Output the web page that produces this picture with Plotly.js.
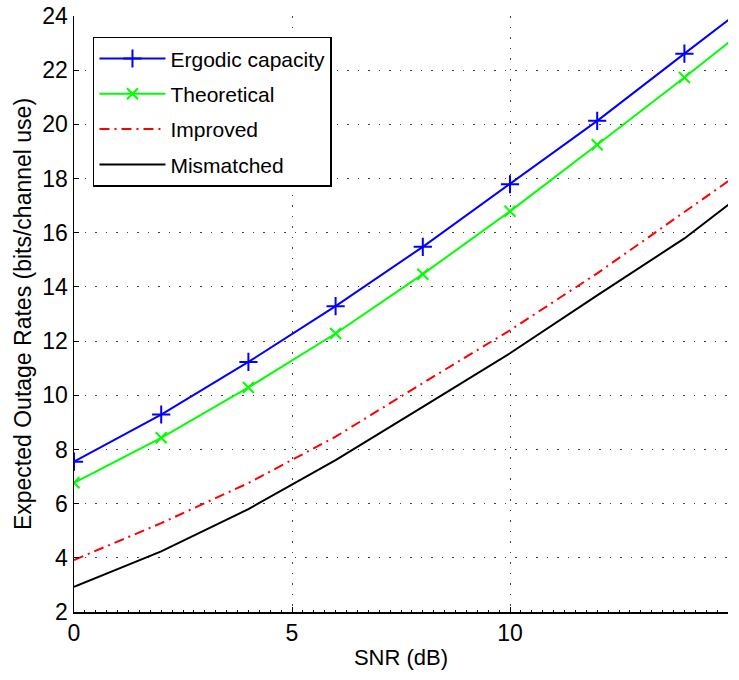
<!DOCTYPE html>
<html>
<head>
<meta charset="utf-8">
<script src="https://cdn.plot.ly/plotly-3.0.1.min.js"></script>
<style>html,body{margin:0;padding:0;background:#fff;}#chart{width:739px;height:680px;}</style>
</head>
<body>
<div id="chart"></div>
<script>
// SNR (dB) sample points (axis is clipped at 15)
const snr = [0, 2, 4, 6, 8, 10, 12, 14, 16];
const ergodic = [7.55, 9.29, 11.23, 13.29, 15.48, 17.79, 20.13, 22.61, 25.07];
const theoretical = [6.77, 8.43, 10.29, 12.28, 14.47, 16.79, 19.25, 21.73, 24.27];
const improved = [3.92, 5.28, 6.76, 8.47, 10.45, 12.40, 14.50, 16.77, 19.03];
const mismatched = [2.93, 4.24, 5.80, 7.61, 9.57, 11.55, 13.69, 15.79, 18.25];
const seriesNames = ["Ergodic capacity", "Theoretical", "Improved", "Mismatched"];
const xTicks = [0, 5, 10, 15];
const yTicks = [2, 4, 6, 8, 10, 12, 14, 16, 18, 20, 22, 24];

const font = "Liberation Sans, Arial, Helvetica, sans-serif";

const traces = [
  {x: snr, y: ergodic, name: seriesNames[0], mode: "lines+markers", legendgroup: "a",
   line: {color: "#0000ff", width: 2},
   marker: {symbol: "cross-thin", size: 13, color: "#0000ff", line: {color: "#0000ff", width: 2}}},
  {x: snr, y: theoretical, name: seriesNames[1], mode: "lines+markers", legendgroup: "b",
   line: {color: "#00ff00", width: 2},
   marker: {symbol: "x-thin", size: 11, color: "#00ff00", line: {color: "#00ff00", width: 2}}},
  {x: snr, y: improved, name: seriesNames[2], mode: "lines", legendgroup: "c",
   line: {color: "#ff0000", width: 2, dash: "10px,5px,2px,5px"}},
  {x: snr, y: mismatched, name: seriesNames[3], mode: "lines", legendgroup: "d",
   line: {color: "#000000", width: 2}}
];

const axisCommon = {
  showline: true, linecolor: "#000", linewidth: 1.5, mirror: false,
  ticks: "inside", ticklen: 5, tickwidth: 1, tickcolor: "#000",
  showgrid: true, gridcolor: "#444", gridwidth: 1, griddash: "1.5px,9px",
  zeroline: false,
  tickfont: {family: font, size: 23, color: "#000"}
};

const layout = {
  width: 739, height: 680,
  margin: {l: 74, r: 11, t: 16, b: 68},
  paper_bgcolor: "#fff", plot_bgcolor: "#fff",
  showlegend: true,
  font: {family: font, color: "#000"},
  xaxis: Object.assign({}, axisCommon, {
    range: [0, 15], tickvals: xTicks, ticktext: xTicks.map(String),
    minor: {ticks: "inside", ticklen: 2, dtick: 0.25, tickcolor: "#000", showgrid: false},
    title: {text: "SNR (dB)", font: {family: font, size: 22, color: "#000"}, standoff: 4}
  }),
  yaxis: Object.assign({}, axisCommon, {
    range: [2, 24], tickvals: yTicks, ticktext: yTicks.map(String),
    title: {text: "Expected Outage Rates (bits/channel use)", font: {family: font, size: 23, color: "#000"}, standoff: 4}
  }),
  legend: {
    x: 0.029, y: 0.965, xanchor: "left", yanchor: "top",
    bgcolor: "#fff", bordercolor: "#000", borderwidth: 1.5,
    font: {family: font, size: 21, color: "#000"},
    itemwidth: 66, tracegroupgap: 5, itemclick: false
  }
};

Plotly.newPlot("chart", traces, layout, {staticPlot: true, displayModeBar: false});
</script>
</body>
</html>
